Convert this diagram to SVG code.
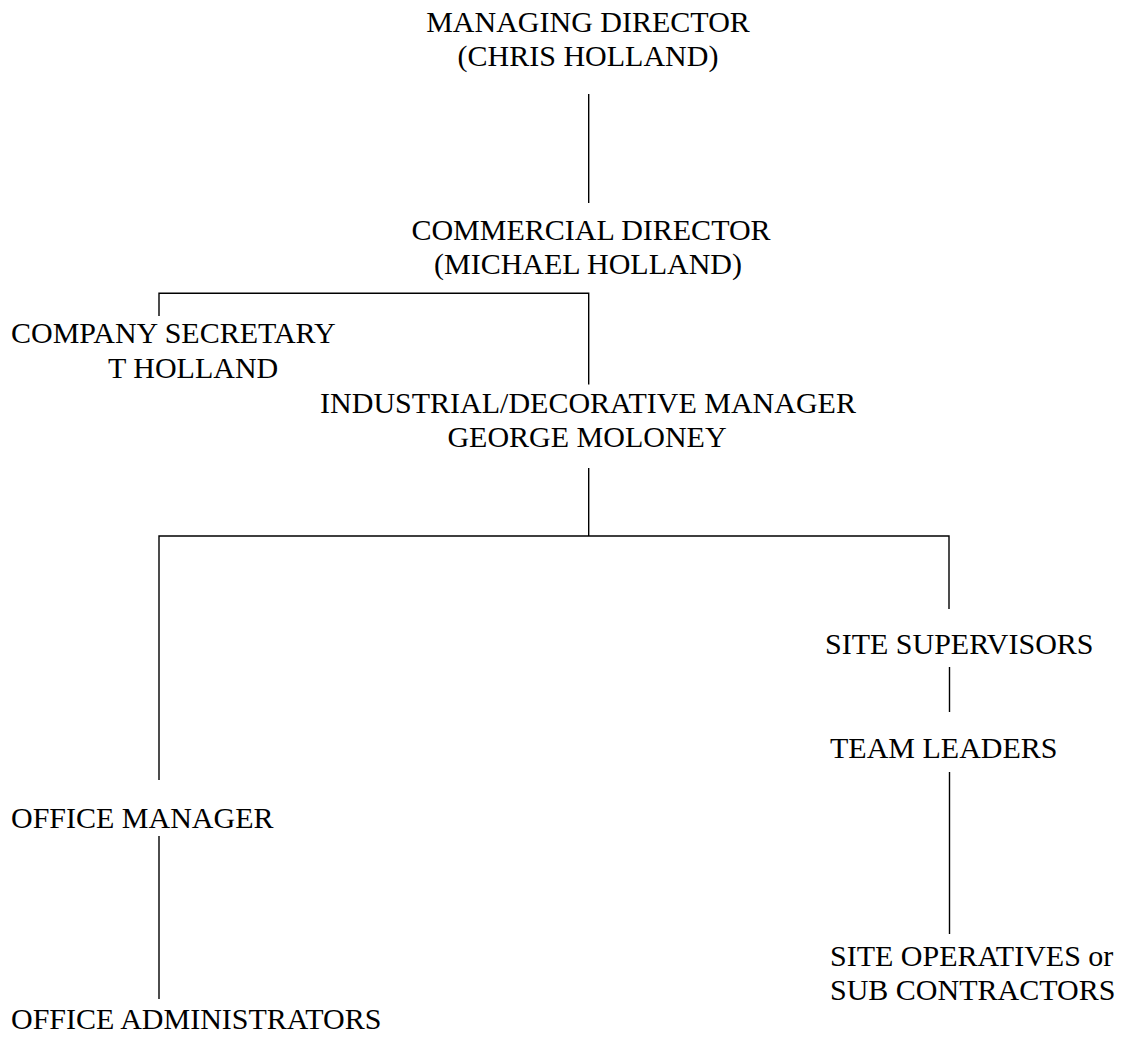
<svg xmlns="http://www.w3.org/2000/svg" width="1122" height="1038" viewBox="0 0 1122 1038">
<style>
text{font-family:"Liberation Serif","Times New Roman",serif;font-size:30px;fill:#000}
.c{text-anchor:middle}
.ln{stroke:#000;stroke-width:1.4;fill:none}
</style>
<rect width="1122" height="1038" fill="#fff"/>
<g id="connectors">
<path class="ln" d="M588.7 94 V203"/>
<path class="ln" d="M159 316 V293.3 H588.7 V384.5"/>
<path class="ln" d="M588.7 468 V536"/>
<path class="ln" d="M159 780 V536 H949 V609"/>
<path class="ln" d="M949.5 667 V712"/>
<path class="ln" d="M949.5 772 V934"/>
<path class="ln" d="M159 836 V999"/>
</g>
<g id="managing-director"><text class="c" x="588" y="32">MANAGING DIRECTOR</text><text class="c" x="588" y="66">(CHRIS HOLLAND)</text></g>
<g id="commercial-director"><text class="c" x="591" y="240">COMMERCIAL DIRECTOR</text><text class="c" x="588" y="274">(MICHAEL HOLLAND)</text></g>
<g id="company-secretary"><text x="11" y="343">COMPANY SECRETARY</text><text x="108" y="378">T HOLLAND</text></g>
<g id="industrial-manager"><text class="c" x="588" y="412.5">INDUSTRIAL/DECORATIVE MANAGER</text><text class="c" x="587" y="446.5">GEORGE MOLONEY</text></g>
<g id="site-supervisors"><text x="825" y="654">SITE SUPERVISORS</text></g>
<g id="team-leaders"><text x="830" y="758">TEAM LEADERS</text></g>
<g id="site-operatives"><text x="830" y="966">SITE OPERATIVES or</text><text x="830" y="1000">SUB CONTRACTORS</text></g>
<g id="office-manager"><text x="11" y="827.5">OFFICE MANAGER</text></g>
<g id="office-administrators"><text x="11" y="1028.5">OFFICE ADMINISTRATORS</text></g>
</svg>
